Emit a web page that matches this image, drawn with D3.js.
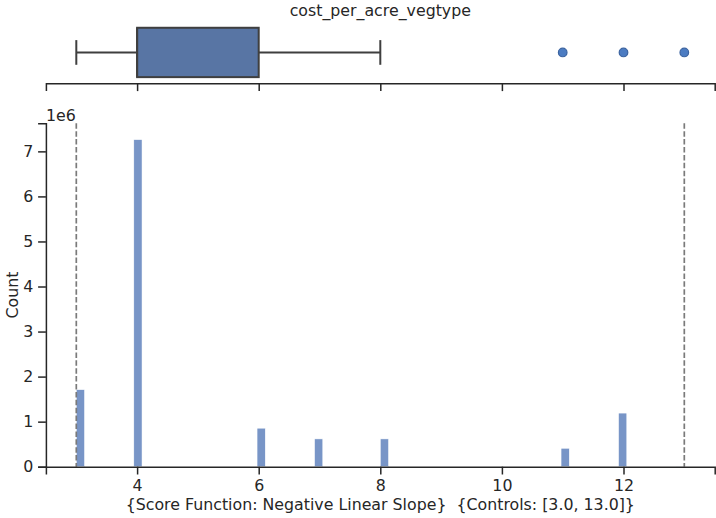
<!DOCTYPE html>
<html><head><meta charset="utf-8">
<script src="https://cdn.jsdelivr.net/npm/d3@7"></script>
<style>
body{margin:0;background:#fff;}
text{font-family:"DejaVu Sans",sans-serif;fill:#262626;white-space:pre;}
</style></head>
<body>
<svg id="c" width="716" height="518"></svg>
<script>
// ---- data ----
const values = [3, 4, 6, 7, 8, 11, 12, 13];
const counts = [1.71e6, 7.26e6, 0.855e6, 0.617e6, 0.617e6, 0.409e6, 1.19e6, 2000];
const controls = [3.0, 13.0];
const boxStats = {whiskerLow: 3, q1: 4, median: 4, q3: 6, whiskerHigh: 8};
const outliers = [11, 12, 13];
const xTicks = [4, 6, 8, 10, 12];
const yTicks = [0, 1, 2, 3, 4, 5, 6, 7];
const title = "cost_per_acre_vegtype";
const xLabel = "{Score Function: Negative Linear Slope}  {Controls: [3.0, 13.0]}";
const yLabel = "Count";
const nBins = 74;

(function () {
const svg = d3.select("#c");
const ink = "#262626";
const fs = "15.8px";
const tl = 7.8, tp = 4.9, sw = 1.5;

const lo = d3.min(values), hi = d3.max(values);
const pad = (hi - lo) * 0.05;
const x = d3.scaleLinear().domain([lo - pad, hi + pad]).range([45.9, 714.7]);
const binW = (hi - lo) / nBins;
const binStart = v => lo + Math.min(Math.floor((v - lo) / binW + 1e-9), nBins - 1) * binW;

// ---- top boxplot panel ----
const yb = d3.scaleLinear().domain([0.5, -0.5]).range([21.6, 83.3]);
const topG = svg.append("g");
const gxTop = topG.append("g").attr("transform", `translate(0,${yb(-0.5)})`)
  .call(d3.axisBottom(x).tickValues(xTicks).tickSize(tl).tickFormat(""));
gxTop.select(".domain").attr("stroke", ink).attr("stroke-width", sw);
gxTop.selectAll(".tick line").attr("stroke", ink).attr("stroke-width", sw);

const boxStroke = "#3f3f3f";
const bw = 2;
topG.append("line").attr("x1", x(boxStats.whiskerLow)).attr("x2", x(boxStats.q1))
  .attr("y1", yb(0)).attr("y2", yb(0)).attr("stroke", boxStroke).attr("stroke-width", bw);
topG.append("line").attr("x1", x(boxStats.q3)).attr("x2", x(boxStats.whiskerHigh))
  .attr("y1", yb(0)).attr("y2", yb(0)).attr("stroke", boxStroke).attr("stroke-width", bw);
[boxStats.whiskerLow, boxStats.whiskerHigh].forEach(v => {
  topG.append("line").attr("x1", x(v)).attr("x2", x(v))
    .attr("y1", yb(0.2)).attr("y2", yb(-0.2)).attr("stroke", boxStroke).attr("stroke-width", bw);
});
topG.append("rect").attr("x", x(boxStats.q1)).attr("y", yb(0.4))
  .attr("width", x(boxStats.q3) - x(boxStats.q1)).attr("height", yb(-0.4) - yb(0.4))
  .attr("fill", "#5875a4").attr("stroke", boxStroke).attr("stroke-width", bw);
topG.append("line").attr("x1", x(boxStats.median)).attr("x2", x(boxStats.median))
  .attr("y1", yb(0.4)).attr("y2", yb(-0.4)).attr("stroke", boxStroke).attr("stroke-width", bw);
topG.selectAll("circle.out").data(outliers).join("circle").attr("class", "out")
  .attr("cx", d => x(d)).attr("cy", yb(0)).attr("r", 4.3)
  .attr("fill", "#4c7cc2").attr("stroke", "#3b63a0").attr("stroke-width", 1.2);

svg.append("text").attr("x", (x.range()[0] + x.range()[1]) / 2).attr("y", 16)
  .attr("text-anchor", "middle").style("font-size", fs).text(title);

// ---- histogram panel ----
const maxC = d3.max(counts);
const y = d3.scaleLinear().domain([0, maxC * 1.05]).range([466.7, 123.3]);
const bars = values.map((v, i) => ({x0: binStart(v), c: counts[i]}));

svg.append("g").selectAll("rect").data(bars).join("rect")
  .attr("x", d => x(d.x0)).attr("width", d => x(d.x0 + binW) - x(d.x0))
  .attr("y", d => y(d.c)).attr("height", d => y(0) - y(d.c))
  .attr("fill", "#7895c7").attr("stroke", "#ffffff").attr("stroke-width", 0.5);

svg.append("g").selectAll("line").data(controls).join("line")
  .attr("x1", d => x(d)).attr("x2", d => x(d))
  .attr("y1", y.range()[1]).attr("y2", y.range()[0])
  .attr("stroke", "#7a7a7a").attr("stroke-width", 1.7).attr("stroke-dasharray", "5.5,2.4");

const gx = svg.append("g").attr("transform", `translate(0,${y(0)})`)
  .call(d3.axisBottom(x).tickValues(xTicks).tickSize(tl).tickPadding(tp).tickFormat(d3.format("d")));
gx.select(".domain").attr("stroke", ink).attr("stroke-width", sw);
gx.selectAll(".tick line").attr("stroke", ink).attr("stroke-width", sw);
gx.selectAll(".tick text").style("font-size", fs).style("font-family", "DejaVu Sans").attr("fill", ink);

const gy = svg.append("g").attr("transform", `translate(${x.range()[0]},0)`)
  .call(d3.axisLeft(y).tickValues(yTicks.map(t => t * 1e6)).tickSize(tl).tickPadding(tp)
    .tickFormat(d => d3.format("d")(d / 1e6)));
gy.select(".domain").attr("stroke", ink).attr("stroke-width", sw);
gy.selectAll(".tick line").attr("stroke", ink).attr("stroke-width", sw);
gy.selectAll(".tick text").style("font-size", fs).style("font-family", "DejaVu Sans").attr("fill", ink);

svg.append("text").attr("x", x.range()[0]).attr("y", 120.5).style("font-size", fs).text("1e6");
svg.append("text").attr("x", (x.range()[0] + x.range()[1]) / 2).attr("y", 510)
  .attr("text-anchor", "middle").style("font-size", fs).text(xLabel);
svg.append("text").attr("transform", `translate(17.5,${(y.range()[0] + y.range()[1]) / 2}) rotate(-90)`)
  .attr("text-anchor", "middle").style("font-size", fs).text(yLabel);
})();
</script>
</body></html>
